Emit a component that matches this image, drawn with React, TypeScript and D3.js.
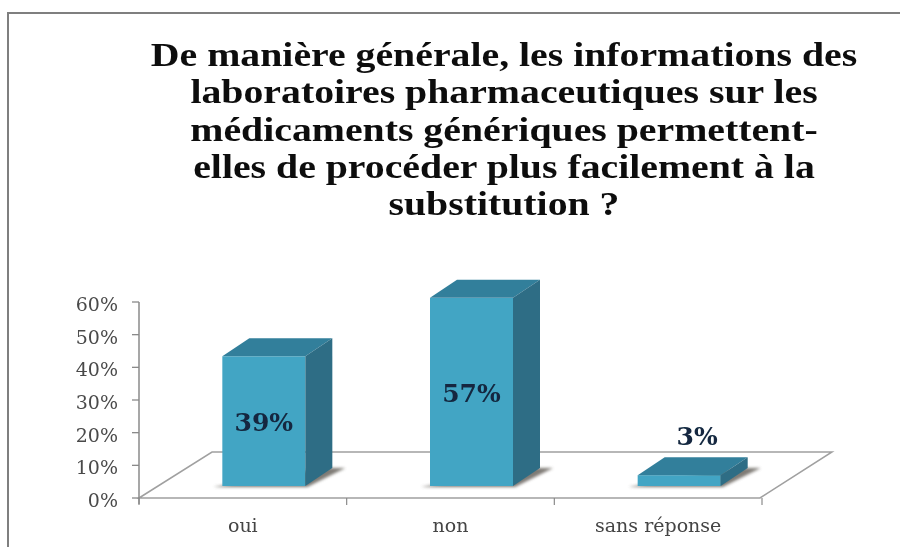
import React from "react";
import * as d3 from "d3";

const categories = ["oui", "non", "sans réponse"];
// labels are rounded, bars sit a bit above them in the picture
const labels = [39, 57, 3];
const values = [39.7, 57.6, 3.3];
const yTicks = [0, 10, 20, 30, 40, 50, 60];
const titleLines = [
  "De manière générale, les informations des",
  "laboratoires pharmaceutiques sur les",
  "médicaments génériques permettent-",
  "elles de procéder plus facilement à la",
  "substitution ?",
];

const WIDTH = 900;
const HEIGHT = 547;
const SERIF = "'Liberation Serif', 'DejaVu Serif', serif";
const WIDE_SERIF = "'DejaVu Serif', serif";

// 3D floor offset and bar depth, in px
const FLOOR_DX = 73;
const FLOOR_DY = -46;
const BAR_DX = 27;
const BAR_DY = -18;
const BASE_DX = 21;
const BASE_DY = -12;

const x = d3.scaleBand<string>().domain(categories).range([139, 762]);
const y = d3.scaleLinear().domain([0, 60]).range([498, 302]);
const BAR_W = 83;

const poly = (pts: [number, number][]) => d3.line()(pts) + "Z";

export default function App() {
  const x0 = x.range()[0];
  const x1 = x.range()[1];
  const y0 = y(0);

  return (
    <svg
      width={WIDTH}
      height={HEIGHT}
      style={{ position: "absolute", left: 0, top: 0, background: "#fff" }}
    >
      <defs>
        <filter id="soft" x="-5%" y="-5%" width="110%" height="110%">
          <feGaussianBlur stdDeviation="0.65" />
        </filter>
        <filter id="shadow" x="-30%" y="-100%" width="160%" height="300%">
          <feGaussianBlur stdDeviation="1.6" />
        </filter>
      </defs>
      <g filter="url(#soft)">
        {/* frame */}
        <path d="M8,547V13H900" fill="none" stroke="#7f7f7f" strokeWidth={2} />

        {/* title, stretched sideways like the original */}
        <g
          transform="translate(504,0) scale(1.17,1)"
          textAnchor="middle"
          fontFamily={SERIF}
          fontWeight="bold"
          fontSize={34}
          fill="#111"
        >
          {titleLines.map((t, i) => (
            <text key={t} x={0} y={66 + i * 37.3}>
              {t}
            </text>
          ))}
        </g>

        {/* floor */}
        <path
          d={poly([
            [x0, y0],
            [x0 + FLOOR_DX, y0 + FLOOR_DY],
            [x1 + FLOOR_DX - 3, y0 + FLOOR_DY],
            [x1 - 2, y0],
          ])}
          fill="#fff"
          stroke="#a0a0a0"
          strokeWidth={1.5}
        />

        {/* y axis */}
        <line x1={x0} x2={x0} y1={y(60)} y2={y0 + 6} stroke="#8a8a8a" strokeWidth={1.5} />
        {yTicks.map((t) => (
          <g key={t}>
            <line x1={x0 - 7} x2={x0} y1={y(t)} y2={y(t)} stroke="#8a8a8a" strokeWidth={1.3} />
            <text
              x={x0 - 21}
              y={y(t) + 9}
              textAnchor="end"
              fontFamily={WIDE_SERIF}
              fontSize={19}
              fill="#4a4a4a"
            >
              {t}%
            </text>
          </g>
        ))}

        {/* x axis ticks and labels */}
        {[...categories.map((c) => x(c)! + x.bandwidth()), x0].map((px) => (
          <line key={px} x1={px} x2={px} y1={y0} y2={y0 + 7} stroke="#8a8a8a" strokeWidth={1.2} />
        ))}
        {categories.map((c) => (
          <text
            key={c}
            x={x(c)! + x.bandwidth() / 2}
            y={532}
            textAnchor="middle"
            fontFamily={WIDE_SERIF}
            fontSize={19}
            fill="#444"
          >
            {c}
          </text>
        ))}

        {/* bars */}
        {categories.map((c, i) => {
          const left = x(c)! + x.bandwidth() / 2 + BASE_DX - BAR_W / 2;
          const right = left + BAR_W;
          const bottom = y0 + BASE_DY;
          const top = bottom - (y0 - y(values[i]));
          const inside = values[i] > 10;
          return (
            <g key={c}>
              <path
                d={poly([
                  [left - 9, bottom + 1],
                  [right + 2, bottom + 1],
                  [right + BAR_DX + 13, bottom + BAR_DY],
                  [right + BAR_DX - 8, bottom + BAR_DY],
                ])}
                fill="#5f5a52"
                opacity={0.8}
                filter="url(#shadow)"
              />
              <rect x={left} y={top} width={BAR_W} height={bottom - top} fill="#42a5c4" />
              <path
                d={poly([
                  [left, top],
                  [right, top],
                  [right + BAR_DX, top + BAR_DY],
                  [left + BAR_DX, top + BAR_DY],
                ])}
                fill="#337f9b"
              />
              <path
                d={poly([
                  [right, top],
                  [right + BAR_DX, top + BAR_DY],
                  [right + BAR_DX, bottom + BAR_DY],
                  [right, bottom],
                ])}
                fill="#2f6d85"
              />
              <text
                x={inside ? (left + right) / 2 : (left + right) / 2 + 18}
                y={inside ? (top + bottom) / 2 + 10 : top - 30}
                textAnchor="middle"
                fontFamily={WIDE_SERIF}
                fontWeight="bold"
                fontSize={25}
                fill="#12283f"
              >
                {labels[i]}%
              </text>
            </g>
          );
        })}
      </g>
    </svg>
  );
}
